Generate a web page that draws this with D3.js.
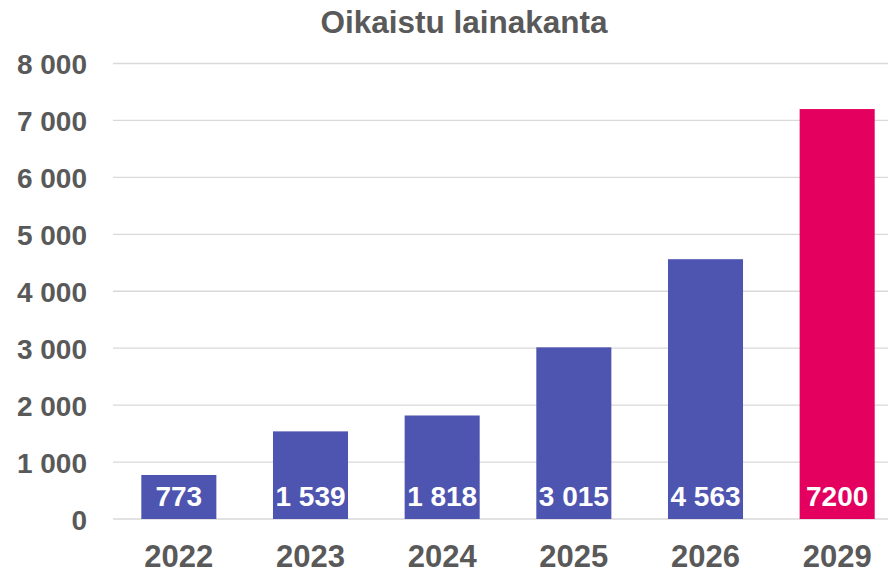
<!DOCTYPE html>
<html>
<head>
<meta charset="utf-8">
<script src="https://cdn.jsdelivr.net/npm/d3@7"></script>
<style>
  body { margin: 0; background: #fff; }
  svg text { font-family: "Liberation Sans", Arial, sans-serif; font-weight: bold; }
</style>
</head>
<body>
<div id="chart"></div>
<script>
// data
const years = ["2022", "2023", "2024", "2025", "2026", "2029"]
const values = [773, 1539, 1818, 3015, 4563, 7200]
const valueLabels = ["773", "1 539", "1 818", "3 015", "4 563", "7200"]
const yTicks = [0, 1000, 2000, 3000, 4000, 5000, 6000, 7000, 8000]

const W = 888, H = 571
const textColor = "#595959"

const svg = d3.select("#chart")
  .append("svg")
  .attr("width", W)
  .attr("height", H)

// x range runs past the right edge, as in the original (cropped)
const x = d3.scaleBand()
  .domain(years)
  .range([113, 903])
  .paddingInner(0.43)
  .paddingOuter(0.215)

const y = d3.scaleLinear()
  .domain([0, 8000])
  .range([519, 63.5])

// gridlines
svg.append("g")
  .selectAll("line")
  .data(yTicks)
  .join("line")
    .attr("x1", 113)
    .attr("x2", W)
    .attr("y1", d => y(d))
    .attr("y2", d => y(d))
    .attr("stroke", "#d9d9d9")
    .attr("stroke-width", 1.3)

// y axis labels
const fmt = d => d === 0 ? "0" : d3.format(",")(d).replace(",", " ")
svg.append("g")
  .call(d3.axisLeft(y).tickValues(yTicks).tickFormat(fmt).tickSize(0).tickPadding(0))
  .attr("transform", "translate(87,0)")
  .call(g => g.select(".domain").remove())
  .selectAll("text")
    .attr("fill", textColor)
    .style("font-size", "28px")
    .style("font-family", "Liberation Sans, Arial, sans-serif")
    .style("font-weight", "bold")
    .attr("dy", "0.36em")

// bars
svg.append("g")
  .selectAll("rect")
  .data(values)
  .join("rect")
    .attr("x", (d, i) => x(years[i]))
    .attr("width", x.bandwidth())
    .attr("y", d => y(d))
    .attr("height", d => y(0) - y(d))
    .attr("fill", (d, i) => years[i] === "2029" ? "#e3005f" : "#4e55b0")

// value labels inside bars
svg.append("g")
  .selectAll("text")
  .data(valueLabels)
  .join("text")
    .attr("x", (d, i) => x(years[i]) + x.bandwidth() / 2)
    .attr("y", 506)
    .attr("text-anchor", "middle")
    .attr("fill", "#fff")
    .style("font-size", "28px")
    .text(d => d)

// x axis labels
svg.append("g")
  .attr("transform", "translate(0,567)")
  .call(d3.axisBottom(x).tickSize(0).tickPadding(0))
  .call(g => g.select(".domain").remove())
  .selectAll("text")
    .attr("dy", 0)
    .attr("fill", textColor)
    .style("font-size", "31px")
    .style("font-family", "Liberation Sans, Arial, sans-serif")
    .style("font-weight", "bold")

// title
svg.append("text")
  .attr("x", 464)
  .attr("y", 33)
  .attr("text-anchor", "middle")
  .attr("fill", textColor)
  .style("font-size", "31.5px")
  .text("Oikaistu lainakanta")
</script>
</body>
</html>
